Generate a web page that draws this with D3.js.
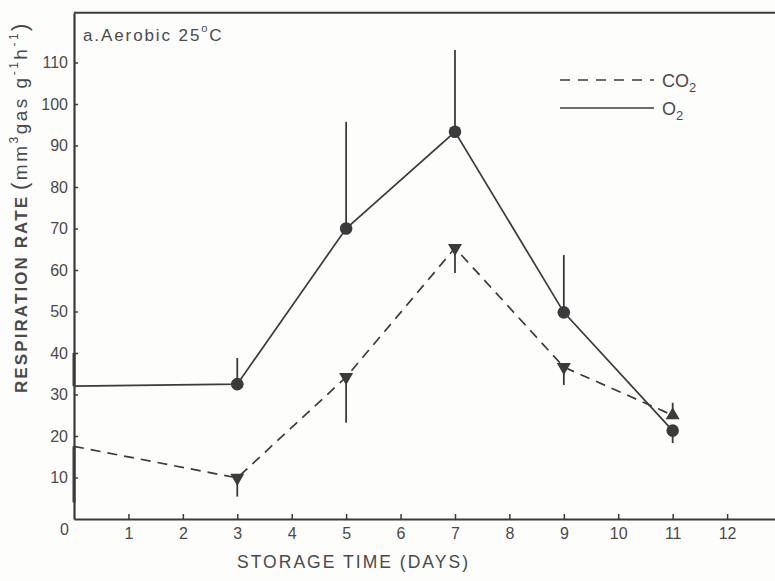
<!DOCTYPE html>
<html><head><meta charset="utf-8">
<script src="https://cdn.jsdelivr.net/npm/d3@7/dist/d3.min.js"></script>
<style>body{margin:0;background:#fdfdfc;} svg{display:block;}</style>
</head><body>
<svg id="c" width="775" height="581"></svg>
<script>
// ---- data ----
const days = [0, 3, 5, 7, 9, 11];
const o2Values = [32, 32.5, 70, 93.3, 49.8, 21.3];
const o2ErrEnd = [40, 38.8, 95.7, 113, 63.6, 18.3];
const co2Values = [17.5, 9.9, 34.2, 65.3, 36.6, 25];
const co2ErrEnd = [4, 5.4, 23.2, 59.3, 32.3, 28];
const xTicks = [1,2,3,4,5,6,7,8,9,10,11,12];
const yTicks = [10,20,30,40,50,60,70,80,90,100,110];
const seriesNames = ["CO", "O"];

const svg = d3.select("#c");
const ink = "#3b3b3b", txt = "#4a4a4a";
const font = "Liberation Sans, Arial, sans-serif";
const x = d3.scaleLinear().domain([0, 12.88]).range([74, 775]);
const y = d3.scaleLinear().domain([0, 122]).range([519, 12.7]);

// frame: top line and left / bottom axes
svg.append("line").attr("x1", x(0)).attr("x2", x(12.88)).attr("y1", y(122)).attr("y2", y(122))
  .attr("stroke", ink).attr("stroke-width", 2);

const xAxis = svg.append("g").attr("transform", `translate(0,${y(0)})`)
  .call(d3.axisBottom(x).tickValues(xTicks).tickSizeInner(-5).tickSizeOuter(0).tickPadding(9));
const yAxis = svg.append("g").attr("transform", `translate(${x(0)},0)`)
  .call(d3.axisLeft(y).tickValues(yTicks).tickSizeInner(-4).tickSizeOuter(0).tickPadding(6));
[xAxis, yAxis].forEach(g => {
  g.select(".domain").attr("stroke", ink).attr("stroke-width", 2.2);
  g.selectAll(".tick line").attr("stroke", ink).attr("stroke-width", 1.5);
  g.selectAll(".tick text").attr("fill", txt).attr("font-family", font).attr("font-size", 16);
});
// origin label
svg.append("text").attr("x", x(0) - 5).attr("y", y(0) + 16).attr("text-anchor", "end")
  .attr("fill", txt).attr("font-family", font).attr("font-size", 16).text("0");

// ---- series ----
function drawSeries(vals, errs, dashed, marker) {
  const pts = days.map((d, i) => [d, vals[i], errs[i]]);
  svg.append("path").datum(pts)
    .attr("d", d3.line().x(p => x(p[0])).y(p => y(p[1])))
    .attr("fill", "none").attr("stroke", ink).attr("stroke-width", 1.7)
    .attr("stroke-dasharray", dashed ? "10,7" : null);
  // error bars
  svg.selectAll(null).data(pts).enter().append("line")
    .attr("x1", p => x(p[0])).attr("x2", p => x(p[0]))
    .attr("y1", p => y(p[1])).attr("y2", p => y(p[2]))
    .attr("stroke", ink).attr("stroke-width", p => p[0] === 0 ? 3 : 1.8);
  const m = pts.filter(p => p[0] > 0);
  if (marker === "circle") {
    svg.selectAll(null).data(m).enter().append("circle")
      .attr("cx", p => x(p[0])).attr("cy", p => y(p[1])).attr("r", 6.3).attr("fill", ink);
  } else {
    svg.selectAll(null).data(m).enter().append("path")
      .attr("transform", p => `translate(${x(p[0])},${y(p[1])}) rotate(${p[2] > p[1] ? 0 : 180})`)
      .attr("d", d3.symbol().type(d3.symbolTriangle).size(85)).attr("fill", ink);
  }
}
drawSeries(o2Values, o2ErrEnd, false, "circle");
drawSeries(co2Values, co2ErrEnd, true, "triangle");

// ---- legend ----
const lg = svg.append("g").attr("font-family", font).attr("fill", txt);
[[80, true], [108, false]].forEach(([ly, dash], i) => {
  lg.append("line").attr("x1", 560).attr("x2", 654).attr("y1", ly).attr("y2", ly)
    .attr("stroke", ink).attr("stroke-width", 1.7).attr("stroke-dasharray", dash ? "10,8" : null);
  const t = lg.append("text").attr("x", 662).attr("y", ly + 7).attr("font-size", 18);
  t.append("tspan").text(seriesNames[i]);
  t.append("tspan").attr("font-size", 13).attr("dy", 5).text("2");
});

// ---- title ----
const tt = svg.append("text").attr("x", 83).attr("y", 41).attr("fill", txt)
  .attr("font-family", font).attr("font-size", 17).attr("letter-spacing", 1.9);
tt.append("tspan").text("a.Aerobic 25");
tt.append("tspan").attr("font-size", 11).attr("dy", -9).text("o");
tt.append("tspan").attr("dy", 9).attr("font-size", 17).text("C");

// ---- axis titles ----
svg.append("text").attr("x", 237).attr("y", 568).attr("fill", txt)
  .attr("font-family", font).attr("font-size", 17.5)
  .attr("textLength", 231).attr("lengthAdjust", "spacing").text("STORAGE TIME (DAYS)");

svg.append("text").attr("transform", "translate(27,393) rotate(-90)").attr("fill", txt)
  .attr("font-family", font).attr("font-size", 17).attr("font-weight", "bold")
  .attr("textLength", 196).attr("lengthAdjust", "spacing").text("RESPIRATION RATE");
const yl = svg.append("text").attr("transform", "translate(27,190) rotate(-90)").attr("fill", txt)
  .attr("font-family", font).attr("font-size", 19).attr("letter-spacing", 2.5);
yl.append("tspan").attr("font-size", 22).text("(");
yl.append("tspan").text("mm");
yl.append("tspan").attr("font-size", 12).attr("dy", -9).text("3");
yl.append("tspan").attr("dy", 9).text("gas g");
yl.append("tspan").attr("font-size", 12).attr("dy", -9).text("-1");
yl.append("tspan").attr("dy", 9).text("h");
yl.append("tspan").attr("font-size", 12).attr("dy", -9).text("-1");
yl.append("tspan").attr("dy", 9).attr("font-size", 22).text(")");
</script>
</body></html>
